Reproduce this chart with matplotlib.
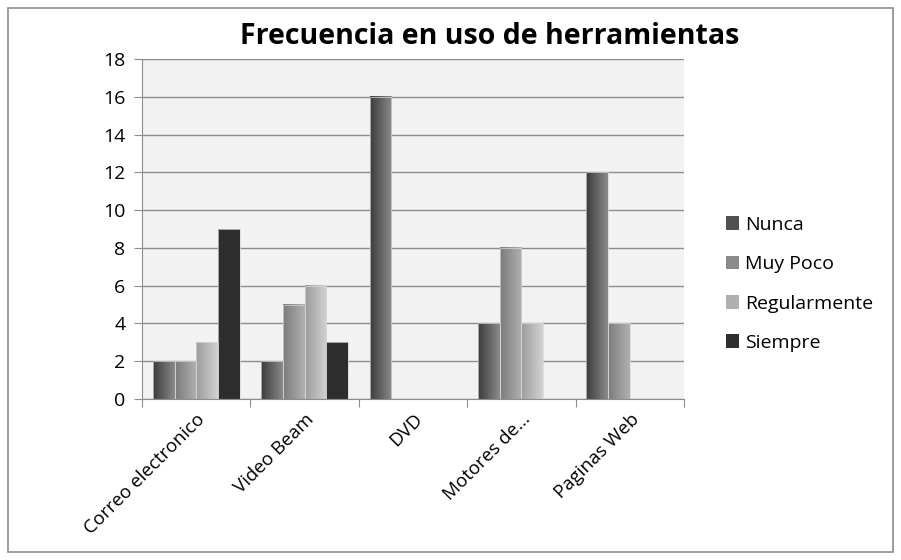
import numpy as np
import matplotlib.pyplot as plt
from matplotlib.colors import LinearSegmentedColormap
from matplotlib.patches import Rectangle, Patch

plt.rcParams['font.family'] = ['Open Sans', 'DejaVu Sans']

# data
categories = ["Correo electronico", "Video Beam", "DVD", "Motores de...", "Paginas Web"]
series = ["Nunca", "Muy Poco", "Regularmente", "Siempre"]
nunca = [2, 2, 16, 4, 12]
muy_poco = [2, 5, 0, 8, 4]
regularmente = [3, 6, 0, 4, 0]
siempre = [9, 3, 0, 0, 0]
values = [nunca, muy_poco, regularmente, siempre]

# gradient colours (left -> right) for each series
grads = [("#3c3c3c", "#8a8a8a"),
         ("#7c7c7c", "#b0b0b0"),
         ("#9c9c9c", "#d2d2d2"),
         ("#2e2e2e", "#2e2e2e")]
legend_cols = ["#505050", "#8a8a8a", "#b0b0b0", "#2e2e2e"]

fig = plt.figure(figsize=(9.01, 5.60), dpi=100)
fig.patches.append(Rectangle((8 / 901, 8 / 560), 885 / 901, 544 / 560,
                             transform=fig.transFigure, fill=False,
                             edgecolor="#8c8c8c", linewidth=1.2))
ax = fig.add_axes([142 / 901, 1 - 399 / 560, 542 / 901, 340 / 560])
ax.set_facecolor("#f2f2f2")

x = np.arange(len(categories))
w = 0.2
grad = np.linspace(0, 1, 64).reshape(1, -1)
for i, vals in enumerate(values):
    bars = ax.bar(x - 0.4 + w * i + w / 2, vals, w, facecolor="none",
                  edgecolor="#d8d8d8", linewidth=0.5, zorder=3)
    cmap = LinearSegmentedColormap.from_list("g%d" % i, grads[i])
    for b in bars:
        if b.get_height() == 0:
            continue
        ax.imshow(grad, cmap=cmap, aspect="auto", zorder=2,
                  extent=[b.get_x(), b.get_x() + b.get_width(), 0, b.get_height()])

ax.set_xlim(-0.5, len(categories) - 0.5)
ax.set_ylim(0, 18)
ax.set_yticks(range(0, 19, 2))
ax.yaxis.grid(True, color="#8c8c8c", linewidth=1)
ax.set_axisbelow(True)

ax.set_xticks(np.arange(-0.5, len(categories), 1))
ax.set_xticklabels([])
ax.set_xticks(x, minor=True)
ax.set_xticklabels(categories, minor=True, rotation=45, ha="right",
                   rotation_mode="anchor", fontsize=13.5)
ax.tick_params(axis="x", which="minor", length=0, pad=8)
ax.tick_params(axis="x", which="major", length=6, color="#8c8c8c")
ax.tick_params(axis="y", length=6, color="#8c8c8c", labelsize=14, pad=6)

for s in ["top", "right"]:
    ax.spines[s].set_visible(False)
for s in ["left", "bottom"]:
    ax.spines[s].set_color("#8c8c8c")

fig.text(490 / 901, 1 - 36 / 560, "Frecuencia en uso de herramientas",
         fontsize=20.5, fontweight="bold", ha="center", va="center")

handles = [Patch(facecolor=c, edgecolor="none") for c in legend_cols]
fig.legend(handles, series, loc="center left", bbox_to_anchor=(708 / 901, 1 - 284 / 560),
           frameon=False, fontsize=14, handlelength=0.7, handleheight=0.7,
           handletextpad=0.3, labelspacing=1.1)

fig.savefig("out.png", dpi=100)
